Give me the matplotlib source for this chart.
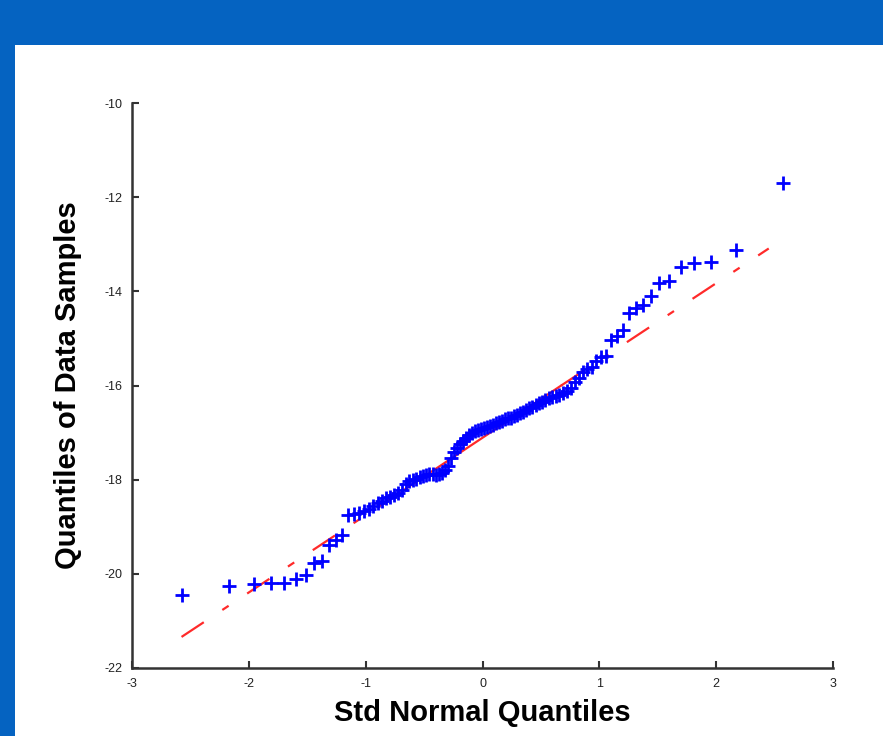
import matplotlib.pyplot as plt
from matplotlib.patches import Rectangle

# theoretical quantiles (x) and sorted data samples (y)
std_q = [-2.576, -2.170, -1.960, -1.812, -1.695, -1.598, -1.514, -1.440, -1.372, -1.311,
         -1.254, -1.200, -1.150, -1.103, -1.058, -1.015, -0.974, -0.935, -0.896, -0.860,
         -0.824, -0.789, -0.755, -0.722, -0.690, -0.659, -0.628, -0.598, -0.568, -0.539,
         -0.510, -0.482, -0.454, -0.426, -0.399, -0.372, -0.345, -0.319, -0.292, -0.266,
         -0.240, -0.215, -0.189, -0.164, -0.138, -0.113, -0.088, -0.063, -0.038, -0.013,
         0.013, 0.038, 0.063, 0.088, 0.113, 0.138, 0.164, 0.189, 0.215, 0.240,
         0.266, 0.292, 0.319, 0.345, 0.372, 0.399, 0.426, 0.454, 0.482, 0.510,
         0.539, 0.568, 0.598, 0.628, 0.659, 0.690, 0.722, 0.755, 0.789, 0.824,
         0.860, 0.896, 0.935, 0.974, 1.015, 1.058, 1.103, 1.150, 1.200, 1.254,
         1.311, 1.372, 1.440, 1.514, 1.598, 1.695, 1.812, 1.960, 2.170, 2.576]

samples = [-20.45, -20.26, -20.21, -20.20, -20.20, -20.12, -20.03, -19.76, -19.72, -19.38,
           -19.28, -19.17, -18.75, -18.72, -18.70, -18.66, -18.62, -18.55, -18.50, -18.46,
           -18.40, -18.36, -18.32, -18.28, -18.22, -18.10, -18.02, -18.00, -17.98, -17.95,
           -17.92, -17.90, -17.88, -17.88, -17.90, -17.88, -17.85, -17.80, -17.70, -17.55,
           -17.42, -17.32, -17.25, -17.18, -17.12, -17.06, -17.00, -16.97, -16.94, -16.92,
           -16.90, -16.88, -16.86, -16.83, -16.80, -16.78, -16.75, -16.72, -16.70, -16.68,
           -16.65, -16.62, -16.58, -16.56, -16.52, -16.48, -16.45, -16.42, -16.38, -16.34,
           -16.30, -16.26, -16.24, -16.22, -16.20, -16.16, -16.12, -16.05, -15.92, -15.85,
           -15.72, -15.65, -15.60, -15.47, -15.40, -15.38, -15.04, -14.94, -14.83, -14.45,
           -14.36, -14.30, -14.09, -13.83, -13.77, -13.49, -13.40, -13.38, -13.13, -11.70]

# reference line: solid between the quartiles, dash-dot outside
ref_x = [-2.576, -0.674, 0.674, 2.45]
ref_y = [-21.34, -18.22, -16.00, -13.09]

xticks = [-3, -2, -1, 0, 1, 2, 3]
yticks = [-22, -20, -18, -16, -14, -12, -10]

plt.rcParams['font.family'] = ['Liberation Sans', 'DejaVu Sans']
plt.rcParams['axes.unicode_minus'] = False

fig = plt.figure(figsize=(8.83, 7.36), dpi=100, facecolor='#0563c1')
panel = Rectangle((15 / 883, 0), 1, (736 - 45) / 736, transform=fig.transFigure,
                  facecolor='white', edgecolor='none', zorder=-10)
fig.add_artist(panel)

ax = fig.add_axes([132 / 883, (736 - 668) / 736, 701 / 883, 565 / 736])
ax.set_facecolor('white')

ax.plot(ref_x[:2], ref_y[:2], color='#ff2a2a', lw=1.6, dashes=(12, 10, 3.4, 10), zorder=2)
ax.plot(ref_x[1:3], ref_y[1:3], color='#ff2a2a', lw=1.6, zorder=2)
ax.plot(ref_x[2:], ref_y[2:], color='#ff2a2a', lw=1.6, dashes=(12, 10, 3.4, 10), zorder=2)
ax.plot(std_q, samples, '+', color='#0000ff', markersize=10, markeredgewidth=2, zorder=3)

ax.set_xlim(-3, 3)
ax.set_ylim(-22, -10)
ax.set_xticks(xticks)
ax.set_yticks(yticks)
ax.tick_params(direction='in', length=5, width=1.5, labelsize=9, color='#333333',
               labelcolor='#222222')
ax.tick_params(axis='x', pad=7)
ax.tick_params(axis='y', pad=7)

for side in ['top', 'right']:
    ax.spines[side].set_visible(False)
for side in ['left', 'bottom']:
    ax.spines[side].set_linewidth(1.8)
    ax.spines[side].set_color('#333333')

ax.set_xlabel('Std Normal Quantiles', fontsize=21, fontweight='bold', labelpad=7)
ax.set_ylabel('Quantiles of Data Samples', fontsize=21, fontweight='bold', labelpad=16)

fig.savefig('out.png', dpi=100, facecolor=fig.get_facecolor())
